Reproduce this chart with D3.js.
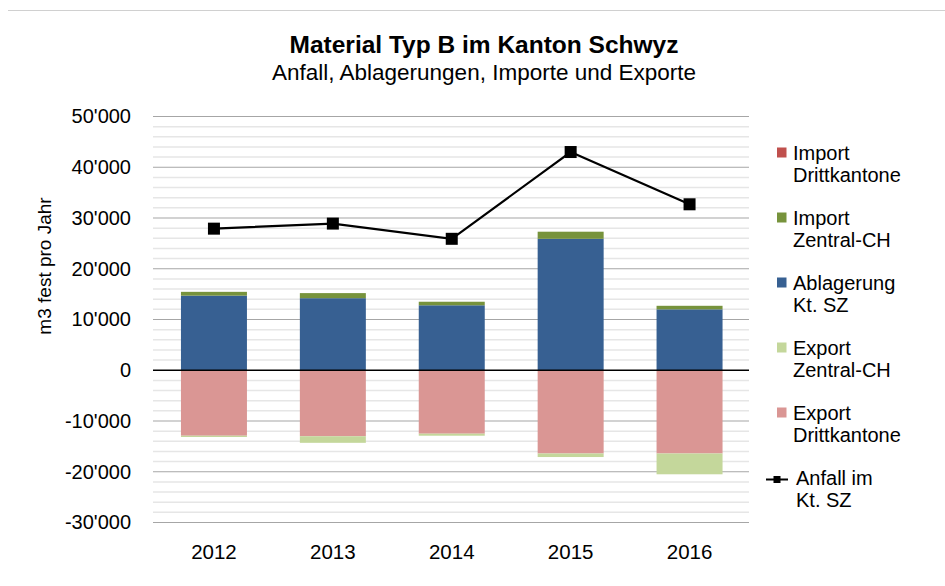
<!doctype html>
<html lang="de">
<head>
<meta charset="UTF-8">
<title>Material Typ B im Kanton Schwyz</title>
<script src="https://d3js.org/d3.v7.min.js"></script>
<style>
  body { margin: 0; background: #fff; }
  text { font-family: "Liberation Sans", Arial, sans-serif; fill: #000; }
</style>
</head>
<body>
<div id="chart-area"></div>

<script>
// data (m3 fest pro Jahr)
const years = ['2012', '2013', '2014', '2015', '2016'];
const importDritt = [0, 0, 0, 0, 0];
const importZentral = [750, 1000, 700, 1400, 700];
const ablagerung = [14700, 14200, 12800, 25900, 12000];
const exportZentral = [-250, -1300, -400, -700, -4100];
const exportDritt = [-12900, -13000, -12500, -16400, -16400];
const anfall = [27900, 28900, 25900, 43000, 32700];
const yTicks = [-30000, -20000, -10000, 0, 10000, 20000, 30000, 40000, 50000];

const chartW = 945;
const chartH = 586;

const fmt = d3.formatLocale({
    decimal: '.', thousands: "'", grouping: [3], currency: ['', ''], minus: '-'
}).format(',');

const svg = d3.select('#chart-area')
    .append('svg')
    .attr('width', chartW)
    .attr('height', chartH);

// frame line on top
svg.append('line')
    .attr('x1', 8).attr('x2', chartW)
    .attr('y1', 10.5).attr('y2', 10.5)
    .attr('stroke', '#d0d0d0');

const x = d3.scaleBand()
    .domain(years)
    .range([154.5, 749])
    .paddingInner(0.445)
    .paddingOuter(0.2225);

const y = d3.scaleLinear()
    .domain([-30000, 50000])
    .range([522.5, 116.5]);

// minor gridlines every 2'000
svg.append('g')
    .selectAll('line')
    .data(d3.range(-30000, 50001, 2000).filter(v => v % 10000 !== 0))
    .enter()
    .append('line')
    .attr('x1', 153).attr('x2', 749)
    .attr('y1', d => y(d)).attr('y2', d => y(d))
    .attr('stroke', '#e6e6e6')
    .attr('stroke-width', 1.5);

// major gridlines
svg.append('g')
    .selectAll('line')
    .data(yTicks.filter(v => v !== 0))
    .enter()
    .append('line')
    .attr('x1', 153).attr('x2', 749)
    .attr('y1', d => y(d)).attr('y2', d => y(d))
    .attr('stroke', '#a6a6a6')
    .attr('stroke-width', 1.2);

// stacked bars
const stacks = [
    { name: 'Ablagerung', vals: ablagerung, color: '#376092' },
    { name: 'ImportZ', vals: importZentral, color: '#77933c' },
    { name: 'ImportD', vals: importDritt, color: '#c0504d' },
    { name: 'ExportD', vals: exportDritt, color: '#da9694' },
    { name: 'ExportZ', vals: exportZentral, color: '#c4d79b' }
];
const posBase = years.map(() => 0);
const negBase = years.map(() => 0);
stacks.forEach(s => {
    const segs = s.vals.map((v, i) => {
        const base = v >= 0 ? posBase : negBase;
        const y0 = base[i];
        const y1 = y0 + v;
        base[i] = y1;
        return { year: years[i], y0, y1 };
    });
    svg.append('g')
        .selectAll('rect')
        .data(segs)
        .enter()
        .append('rect')
        .attr('x', d => x(d.year))
        .attr('width', x.bandwidth())
        .attr('y', d => y(Math.max(d.y0, d.y1)))
        .attr('height', d => Math.abs(y(d.y0) - y(d.y1)))
        .attr('fill', s.color);
});

// zero line
svg.append('line')
    .attr('x1', 153).attr('x2', 749)
    .attr('y1', y(0)).attr('y2', y(0))
    .attr('stroke', '#000')
    .attr('stroke-width', 1.3);

// Anfall line
const line = d3.line()
    .x((d, i) => x(years[i]) + x.bandwidth() / 2)
    .y(d => y(d));
svg.append('path')
    .datum(anfall)
    .attr('d', line)
    .attr('fill', 'none')
    .attr('stroke', '#000')
    .attr('stroke-width', 2.2);
svg.append('g')
    .selectAll('rect')
    .data(anfall)
    .enter()
    .append('rect')
    .attr('x', (d, i) => x(years[i]) + x.bandwidth() / 2 - 6)
    .attr('y', d => y(d) - 6)
    .attr('width', 12)
    .attr('height', 12)
    .attr('fill', '#000');

// y axis labels
const yAxis = svg.append('g')
    .attr('transform', 'translate(131,0)')
    .call(d3.axisLeft(y).tickValues(yTicks).tickSize(0).tickPadding(0).tickFormat(fmt));
yAxis.select('.domain').remove();
yAxis.selectAll('text')
    .style('font-family', '"Liberation Sans", Arial, sans-serif')
    .style('font-size', '20px')
    .attr('fill', '#000');

// x axis labels
svg.append('g')
    .selectAll('text')
    .data(years)
    .enter()
    .append('text')
    .attr('x', d => x(d) + x.bandwidth() / 2)
    .attr('y', 559)
    .attr('text-anchor', 'middle')
    .style('font-size', '20.5px')
    .text(d => d);

// y title
svg.append('text')
    .attr('transform', 'translate(51,266) rotate(-90)')
    .attr('text-anchor', 'middle')
    .style('font-size', '19px')
    .text('m3 fest pro Jahr');

// titles
svg.append('text')
    .attr('x', 484).attr('y', 53)
    .attr('text-anchor', 'middle')
    .style('font-size', '24.5px')
    .style('font-weight', 'bold')
    .text('Material  Typ B im Kanton Schwyz');
svg.append('text')
    .attr('x', 484).attr('y', 80)
    .attr('text-anchor', 'middle')
    .style('font-size', '22.5px')
    .text('Anfall, Ablagerungen, Importe und Exporte');

// legend
const legend = [
    { lines: ['Import', 'Drittkantone'], color: '#c0504d' },
    { lines: ['Import', 'Zentral-CH'], color: '#77933c' },
    { lines: ['Ablagerung', 'Kt. SZ'], color: '#376092' },
    { lines: ['Export', 'Zentral-CH'], color: '#c4d79b' },
    { lines: ['Export', 'Drittkantone'], color: '#da9694' },
    { lines: ['Anfall im', 'Kt. SZ'], color: null }
];
const lg = svg.append('g')
    .selectAll('g')
    .data(legend)
    .enter()
    .append('g')
    .attr('transform', (d, i) => `translate(0,${i * 65})`);
lg.filter(d => d.color)
    .append('rect')
    .attr('x', 777).attr('y', 147.5)
    .attr('width', 9.5).attr('height', 10)
    .attr('fill', d => d.color);
const ll = lg.filter(d => !d.color);
ll.append('line')
    .attr('x1', 766).attr('x2', 788)
    .attr('y1', 154.5).attr('y2', 154.5)
    .attr('stroke', '#000').attr('stroke-width', 2);
ll.append('rect')
    .attr('x', 773.5).attr('y', 151)
    .attr('width', 7).attr('height', 7)
    .attr('fill', '#000');
lg.append('text')
    .attr('x', d => d.color ? 793 : 796)
    .attr('y', 159.5)
    .style('font-size', '20px')
    .selectAll('tspan')
    .data(d => d.lines)
    .enter()
    .append('tspan')
    .attr('x', function () { return d3.select(this.parentNode).attr('x'); })
    .attr('dy', (d, i) => i === 0 ? 0 : 22.5)
    .text(d => d);
</script>

</body>
</html>
